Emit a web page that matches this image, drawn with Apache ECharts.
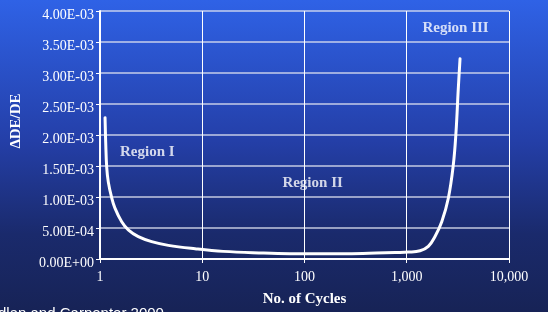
<!DOCTYPE html>
<html>
<head>
<meta charset="utf-8">
<script src="https://cdn.jsdelivr.net/npm/echarts@6/dist/echarts.min.js"></script>
<style>
  html, body { margin: 0; padding: 0; }
  body {
    width: 548px; height: 312px; overflow: hidden;
    background: linear-gradient(to bottom, #2f62e6 0%, #243fa8 45%, #1a2a6c 75%, #172356 100%);
  }
  #chart { width: 548px; height: 312px; }
</style>
</head>
<body>
<div id="chart"></div>
<script>
// curve: cycles vs ΔDE/DE
const cycles = [1.12, 1.137, 1.163, 1.206, 1.3, 1.4, 1.63, 1.89, 2.37, 3.2, 4.66, 8.5, 16, 40, 72, 120, 260, 500, 770, 1035, 1350, 1625, 1890, 2200, 2550, 2850, 3030, 3190, 3320];
const ratio = [2.28e-3, 1.88e-3, 1.48e-3, 1.24e-3, 9.9e-4, 8.2e-4, 6.0e-4, 4.7e-4, 3.6e-4, 2.8e-4, 2.2e-4, 1.65e-4, 1.23e-4, 9.6e-5, 8.5e-5, 8.3e-5, 8.5e-5, 9.5e-5, 1.05e-4, 1.12e-4, 1.33e-4, 2.03e-4, 3.63e-4, 6.0e-4, 9.8e-4, 1.51e-3, 2.04e-3, 2.74e-3, 3.23e-3];

const regionNames = ['Region I', 'Region II', 'Region III'];
const regionX = [2.9, 120, 3000];
const regionY = [1.72e-3, 1.23e-3, 3.72e-3];

const source = 'dlan and Carpenter 2000';

function sci(v) {
  if (v === 0) return '0.00E+00';
  const e = Math.floor(Math.log10(Math.abs(v)) + 1e-9);
  const m = v / Math.pow(10, e);
  const es = (e < 0 ? '-' : '+') + String(Math.abs(e)).padStart(2, '0');
  return m.toFixed(2) + 'E' + es;
}

const serif = '"Liberation Serif", "Times New Roman", serif';
const chart = echarts.init(document.getElementById('chart'));

chart.setOption({
  backgroundColor: 'transparent',
  animation: false,
  grid: { left: 100, right: 39, top: 11, bottom: 50 },
  xAxis: {
    type: 'log',
    logBase: 10,
    min: 1,
    max: 10000,
    name: 'No. of Cycles',
    nameLocation: 'middle',
    nameGap: 33,
    nameTextStyle: { color: '#fff', fontFamily: serif, fontWeight: 'bold', fontSize: 15 },
    axisLine: { lineStyle: { color: '#fff', width: 2 } },
    axisTick: { show: true, length: 4, lineStyle: { color: '#fff' } },
    minorTick: { show: false },
    axisLabel: {
      color: '#fff', fontFamily: serif, fontSize: 14, margin: 11,
      formatter: v => Math.round(v).toLocaleString('en-US')
    },
    splitLine: { show: true, lineStyle: { color: '#fff', width: 1 } }
  },
  yAxis: {
    type: 'value',
    min: 0,
    max: 0.004,
    interval: 0.0005,
    name: 'ΔDE/DE',
    nameLocation: 'middle',
    nameGap: 76,
    nameRotate: 90,
    nameTextStyle: { color: '#fff', fontFamily: serif, fontWeight: 'bold', fontSize: 15, padding: [0, 0, 0, 28] },
    axisLine: { show: true, lineStyle: { color: '#fff', width: 2 } },
    axisTick: { show: true, length: 4, lineStyle: { color: '#fff' } },
    axisLabel: {
      color: '#fff', fontFamily: serif, fontSize: 14, margin: 6,
      verticalAlign: 'top', lineHeight: 8, formatter: sci
    },
    splitLine: { show: true, lineStyle: { color: 'rgba(225,228,240,0.85)', width: 1.5 } }
  },
  series: [
    {
      type: 'line',
      data: cycles.map((c, i) => [c, ratio[i]]),
      smooth: 0.4,
      showSymbol: false,
      lineStyle: { color: '#fff', width: 3, cap: 'round', join: 'round' }
    },
    {
      type: 'scatter',
      symbolSize: 0,
      data: regionNames.map((n, i) => ({ value: [regionX[i], regionY[i]], name: n })),
      label: {
        show: true,
        position: 'inside',
        formatter: p => p.name,
        color: '#fff',
        fontFamily: serif,
        fontWeight: 'bold',
        fontSize: 15
      }
    }
  ],
  graphic: [
    {
      type: 'text',
      left: -2,
      top: 306,
      style: { text: source, fill: '#fff', font: '15px "Liberation Sans", Arial, sans-serif' }
    }
  ]
});
</script>
</body>
</html>
